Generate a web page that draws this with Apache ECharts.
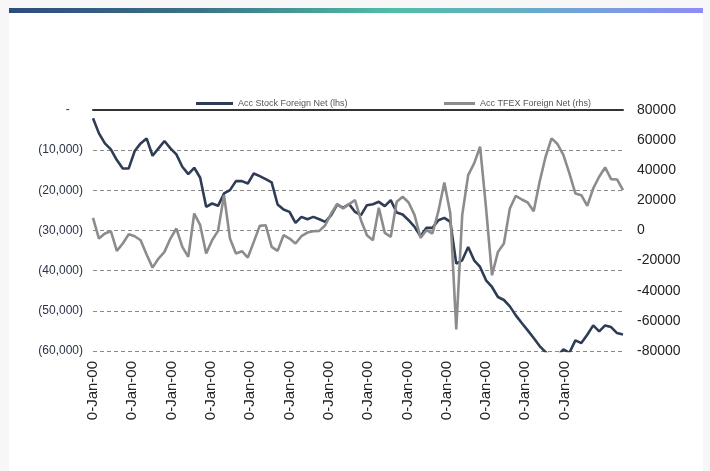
<!DOCTYPE html>
<html>
<head>
<meta charset="utf-8">
<script src="https://cdn.jsdelivr.net/npm/echarts@6/dist/echarts.min.js"></script>
<style>
  html, body { margin: 0; padding: 0; width: 710px; height: 471px; background: #f7f7f8; overflow: hidden; }
  #card { position: absolute; left: 9px; top: 8px; width: 694px; height: 463px; background: #ffffff; }
  #bar { position: absolute; left: 9px; top: 8px; width: 694px; height: 5px;
         background: linear-gradient(to right, #2f4b7c 0%, #3b7489 28%, #4fbea6 55%, #68acc9 75%, #8e8cf8 100%); }
  #chart { position: absolute; left: 0; top: 0; width: 710px; height: 471px; }
</style>
</head>
<body>
<div id="card"></div>
<div id="bar"></div>
<div id="chart"></div>
<script>
// ---- data ----
const seriesNames = ['Acc Stock Foreign Net (lhs)', 'Acc TFEX Foreign Net (rhs)'];
const tickLabels = ['0-Jan-00','0-Jan-00','0-Jan-00','0-Jan-00','0-Jan-00','0-Jan-00','0-Jan-00',
                    '0-Jan-00','0-Jan-00','0-Jan-00','0-Jan-00','0-Jan-00','0-Jan-00'];
const stockNet = [
  -2078, -5820, -8313, -9810, -12470, -14549, -14549, -10225, -8313, -7066, -11389, -9560,
  -7731, -9560, -11057, -14133, -15962, -14382, -16876, -24108, -23277, -23859, -20783,
  -19952, -17707, -17707, -18289, -15795, -16460, -17209, -18040, -23526, -24773, -25355,
  -28098, -26602, -27185, -26602, -27185, -27850, -26187, -23526, -24358, -23444, -25355,
  -26187, -23693, -23444, -22862, -23942, -22446, -25521, -26021, -27434, -29097, -31424,
  -29346, -29346, -27434, -26852, -27850, -38241, -37410, -34085, -37410, -39073, -42398,
  -44062, -46555, -47303, -48884, -51127, -53040, -54868, -56780, -58776, -60272, -61500,
  -61200, -59607, -60438, -57362, -58027, -55950, -53621, -55117, -53621, -54037, -55533, -55866
];
const tfexNet = [
  8400, -5340, -2017, -466, -13544, -8667, -2461, -3791, -6451, -15982, -24626, -18642,
  -14209, -5340, 1308, -10884, -17533, 11284, 3524, -15316, -6451, -244, 23475,
  -5340, -15316, -13766, -17977, -7559, 3080, 3524, -10884, -13544, -3126, -5340,
  -8667, -3791, -1352, -466, -244, 3524, 11284, 17490, 14608, 17490, 20150,
  6850, -3126, -6451, 15052, -1574, -4234, 19041, 22366, 18598, 10175, -4899,
  200, -2017, 12835, 31899, 11284, -65636, 10175, 36775, 44533, 55616, 15000,
  -29726, -14209, -8667, 14608, 23031, 20593, 18598, 12835, 32341, 48967, 61159,
  57390, 50075, 37883, 24584, 23475, 16382, 27908, 35666, 41873, 34115, 33893, 26800
];
const labelStep = 6.6;

const FONT = 'Arial, "Liberation Sans", sans-serif';
const chart = echarts.init(document.getElementById('chart'), null, { renderer: 'canvas' });
chart.setOption({
  backgroundColor: 'transparent',
  animation: false,
  legend: [
    { data: [seriesNames[0]], left: 191, top: 94, icon: 'rect', itemWidth: 37, itemHeight: 3, itemGap: 3,
      textStyle: { fontSize: 9, color: '#555', fontFamily: FONT } },
    { data: [seriesNames[1]], left: 439, top: 94, icon: 'rect', itemWidth: 31, itemHeight: 3, itemGap: 3,
      textStyle: { fontSize: 9, color: '#555', fontFamily: FONT } }
  ],
  grid: { left: 93, right: 87, top: 110, bottom: 120, containLabel: false },
  xAxis: [
    { type: 'value', min: 0, max: stockNet.length - 1, interval: labelStep, position: 'bottom',
      axisLine: { show: false }, axisTick: { show: false }, splitLine: { show: false },
      axisLabel: { rotate: 90, margin: 10, fontSize: 15, color: '#222', fontFamily: FONT,
        showMaxLabel: false, showMinLabel: true,
        formatter: v => tickLabels[Math.round(v / labelStep)] || '' } },
    { type: 'value', min: 0, max: stockNet.length - 1, position: 'top',
      axisLine: { show: true, onZero: false, lineStyle: { color: '#333', width: 2 } },
      axisTick: { show: false }, axisLabel: { show: false }, splitLine: { show: false } }
  ],
  yAxis: [
    { type: 'value', min: -60000, max: 0, interval: 10000, position: 'left',
      axisLine: { show: false }, axisTick: { show: false },
      splitLine: { show: true, lineStyle: { color: '#8a8a8a', type: [4, 3], width: 1 } },
      axisLabel: { margin: 10, fontSize: 12, color: '#2a3348', fontFamily: FONT,
        formatter: v => v === 0 ? '-    ' : '(' + Math.abs(v).toLocaleString('en-US') + ')' } },
    { type: 'value', min: -80000, max: 80000, interval: 20000, position: 'right',
      axisLine: { show: false }, axisTick: { show: false }, splitLine: { show: false },
      axisLabel: { margin: 14, fontSize: 14, color: '#222', fontFamily: FONT,
        formatter: v => String(v) } }
  ],
  series: [
    { name: seriesNames[0], type: 'line', xAxisIndex: 0, yAxisIndex: 0, symbol: 'none',
      color: '#2e3c55', lineStyle: { width: 2.6, color: '#2e3c55' },
      data: stockNet.map((v, i) => [i, v]) },
    { name: seriesNames[1], type: 'line', xAxisIndex: 0, yAxisIndex: 1, symbol: 'none',
      color: '#8c8c8c', lineStyle: { width: 2.6, color: '#8c8c8c' },
      data: tfexNet.map((v, i) => [i, v]) }
  ]
});
</script>
</body>
</html>
